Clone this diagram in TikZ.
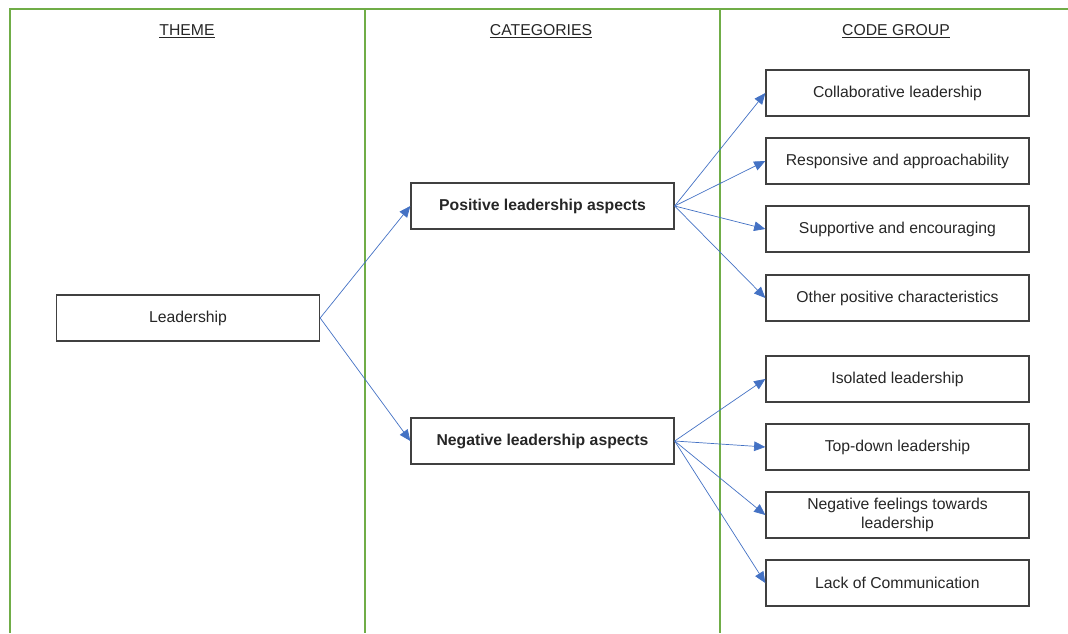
\documentclass[tikz,border=0pt]{standalone}
\usepackage{fontspec}
\setmainfont{Liberation Sans}
\usetikzlibrary{arrows.meta}
\definecolor{framegreen}{HTML}{70AD47}
\definecolor{linkblue}{HTML}{4472C4}
\definecolor{boxgray}{HTML}{404040}
\definecolor{textgray}{HTML}{262626}

\begin{document}
\begin{tikzpicture}[x=0.025cm,y=-0.025cm,
    font=\fontsize{11.2}{13}\selectfont,
    codebox/.style={draw=boxgray,line width=0.9pt,minimum width=6.575cm,
      minimum height=1.15cm,align=center,text=textgray,inner sep=2pt},
    boldbox/.style={codebox,font=\fontsize{11.2}{13}\selectfont\bfseries},
    link/.style={draw=linkblue,line width=0.5pt,
      -{Triangle[length=0.28cm,width=0.24cm]}},
    colhead/.style={text=textgray}]
  \useasboundingbox (0,0) rectangle (1068,633);
  % column frame
  \draw[framegreen,line width=1.4pt] (10,633) -- (10,9) -- (1068,9);
  \draw[framegreen,line width=1.4pt] (365,9) -- (365,633);
  \draw[framegreen,line width=1.4pt] (720,9) -- (720,633);
  \node[colhead] (theme) at (187,31) {\underline{THEME}};
  \node[colhead] (categories) at (541,31) {\underline{CATEGORIES}};
  \node[colhead] (codegroup) at (896,31) {\underline{CODE GROUP}};
  % theme and categories
  \node[codebox] (leadership) at (188,318) {Leadership};
  \node[boldbox] (positive) at (542.5,206) {Positive leadership aspects};
  \node[boldbox] (negative) at (542.5,441) {Negative leadership aspects};
  % code groups
  \node[codebox] (collab) at (897.5,93) {Collaborative leadership};
  \node[codebox] (respons) at (897.5,161) {Responsive and approachability};
  \node[codebox] (support) at (897.5,229) {Supportive and encouraging};
  \node[codebox] (otherpos) at (897.5,298) {Other positive characteristics};
  \node[codebox] (isolated) at (897.5,379) {Isolated leadership};
  \node[codebox] (topdown) at (897.5,447) {Top-down leadership};
  \node[codebox] (negfeel) at (897.5,515) {Negative feelings towards\\leadership};
  \node[codebox] (lackcomm) at (897.5,583) {Lack of Communication};
  % links
  \draw[link] (leadership.east) -- (positive.west);
  \draw[link] (leadership.east) -- (negative.west);
  \foreach \target in {collab,respons,support,otherpos}
    \draw[link] (positive.east) -- (\target.west);
  \foreach \target in {isolated,topdown,negfeel,lackcomm}
    \draw[link] (negative.east) -- (\target.west);
\end{tikzpicture}
\end{document}
